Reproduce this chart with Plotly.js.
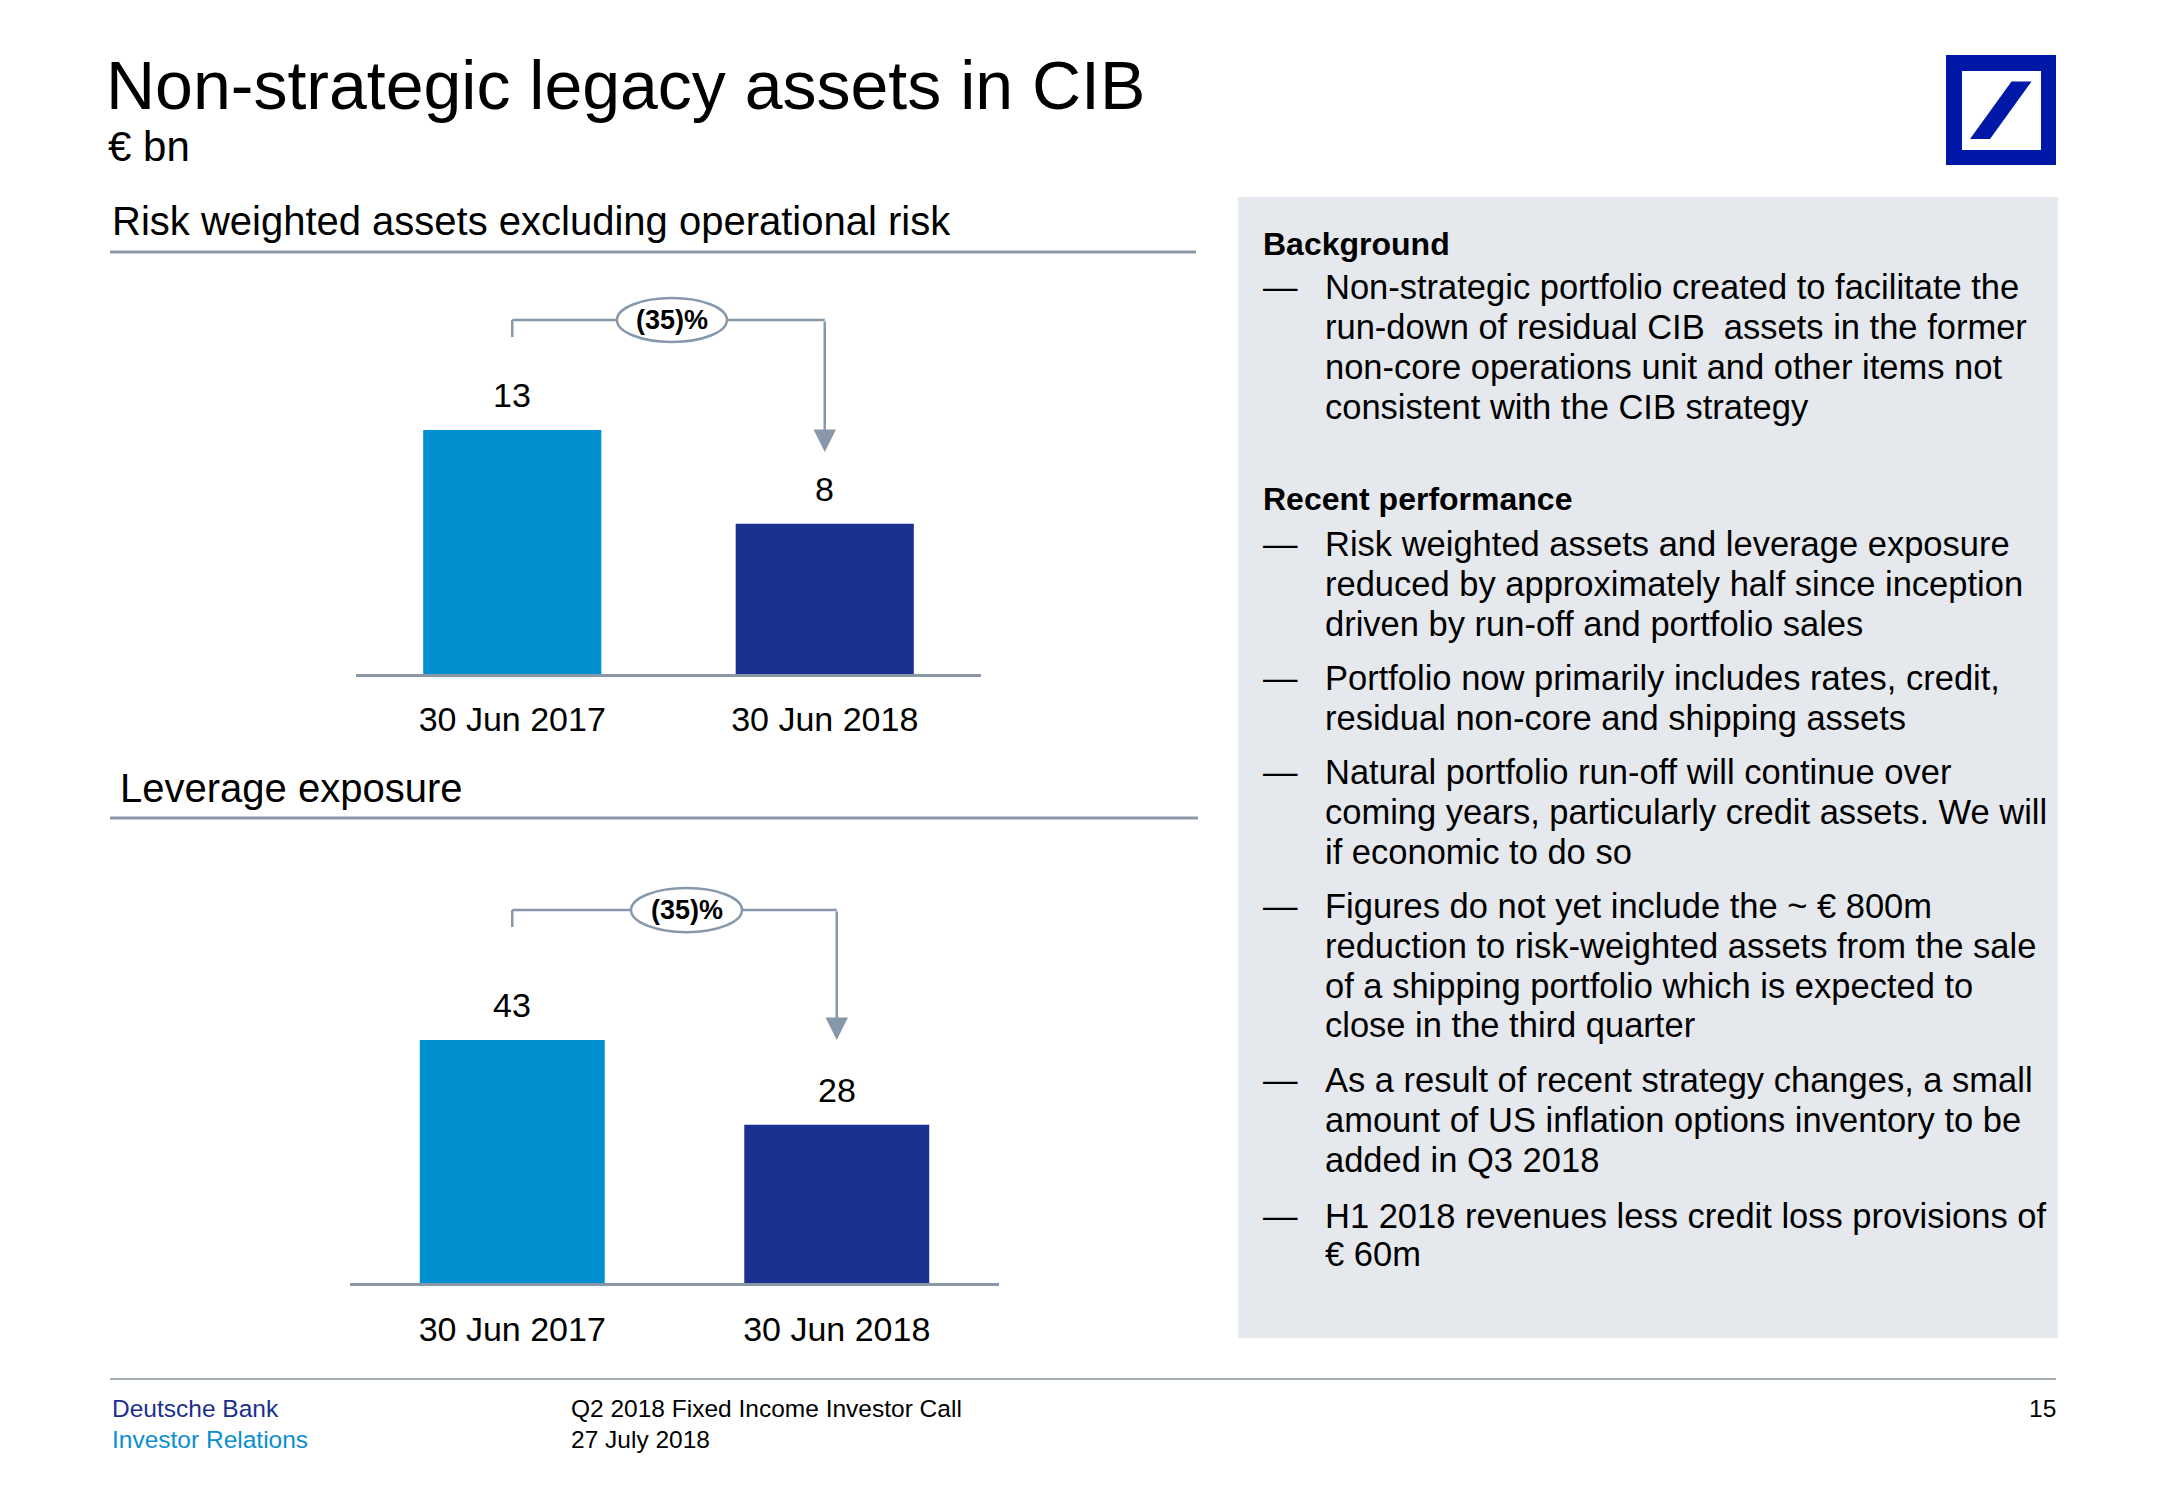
<!DOCTYPE html>
<html>
<head>
<meta charset="utf-8">
<script src="https://cdn.plot.ly/plotly-3.0.1.min.js"></script>
<style>
  html, body { margin: 0; padding: 0; background: #ffffff; }
  #chart { width: 2166px; height: 1500px; }
</style>
</head>
<body>
<div id="chart"></div>
<script>
// ---------------- data ----------------
const categories = ['30 Jun 2017', '30 Jun 2018'];
const rwaValues = [13, 8];
const leverageValues = [43, 28];
const rwaChangeLabel = '(35)%';
const leverageChangeLabel = '(35)%';

const pageTitle = 'Non-strategic legacy assets in CIB';
const pageUnit = '€ bn';
const rwaTitle = 'Risk weighted assets excluding operational risk';
const leverageTitle = 'Leverage exposure';

const backgroundHeading = 'Background';
const backgroundBullets = [
  ['Non-strategic portfolio created to facilitate the',
   'run-down of residual CIB  assets in the former',
   'non-core operations unit and other items not',
   'consistent with the CIB strategy']
];
const performanceHeading = 'Recent performance';
const performanceBullets = [
  ['Risk weighted assets and leverage exposure',
   'reduced by approximately half since inception',
   'driven by run-off and portfolio sales'],
  ['Portfolio now primarily includes rates, credit,',
   'residual non-core and shipping assets'],
  ['Natural portfolio run-off will continue over',
   'coming years, particularly credit assets. We will',
   'if economic to do so'],
  ['Figures do not yet include the ~ € 800m',
   'reduction to risk-weighted assets from the sale',
   'of a shipping portfolio which is expected to',
   'close in the third quarter'],
  ['As a result of recent strategy changes, a small',
   'amount of US inflation options inventory to be',
   'added in Q3 2018'],
  ['H1 2018 revenues less credit loss provisions of',
   '€ 60m']
];
const footerLeft = ['Deutsche Bank', 'Investor Relations'];
const footerMid = ['Q2 2018 Fixed Income Investor Call', '27 July 2018'];
const pageNumber = '15';

// ---------------- layout helpers ----------------
const W = 2166, H = 1500;
const fx = x => x / W;
const fy = y => 1 - y / H;
const FONT = 'Liberation Sans, Arial, sans-serif';
const LIGHT = '#0090CF';
const DARK = '#1B3192';
const GREYLINE = '#8A97A6';
const BRACKET = '#8798AA';
const barColors = [LIGHT, DARK];

const annotations = [];
const shapes = [];

function txt(text, x, y, size, opts) {
  opts = opts || {};
  annotations.push(Object.assign({
    text: text, xref: 'paper', yref: 'paper', x: fx(x), y: fy(y),
    xanchor: 'left', yanchor: 'middle', showarrow: false,
    font: {family: FONT, size: size, color: '#000000'}
  }, opts));
}

// Titles
txt(pageTitle, 104, 85, 68);
txt(pageUnit, 106, 147, 42);
txt(rwaTitle, 110, 221, 40);
txt(leverageTitle, 118, 788, 40);

// Section rules
shapes.push({type: 'line', xref: 'paper', yref: 'paper', x0: fx(110), x1: fx(1196), y0: fy(252), y1: fy(252), line: {color: GREYLINE, width: 3}});
shapes.push({type: 'line', xref: 'paper', yref: 'paper', x0: fx(110), x1: fx(1198), y0: fy(818), y1: fy(818), line: {color: GREYLINE, width: 3}});
// footer rule
shapes.push({type: 'line', xref: 'paper', yref: 'paper', x0: fx(110), x1: fx(2056), y0: fy(1379), y1: fy(1379), line: {color: '#A3ACB5', width: 2}});

// Right panel
shapes.push({type: 'rect', xref: 'paper', yref: 'paper', x0: fx(1238), x1: fx(2058), y0: fy(1338), y1: fy(197), fillcolor: '#E5E8ED', line: {width: 0}, layer: 'below'});

// Logo
shapes.push({type: 'rect', xref: 'paper', yref: 'paper', x0: fx(1946), x1: fx(2056), y0: fy(165), y1: fy(55), fillcolor: '#0018A8', line: {width: 0}});
shapes.push({type: 'rect', xref: 'paper', yref: 'paper', x0: fx(1962), x1: fx(2041), y0: fy(150), y1: fy(71), fillcolor: '#FFFFFF', line: {width: 0}});
shapes.push({type: 'path', xref: 'paper', yref: 'paper',
  path: 'M ' + fx(2011.5) + ',' + fy(81.5) + ' L ' + fx(2031.5) + ',' + fy(81.5) +
        ' L ' + fx(1990) + ',' + fy(139) + ' L ' + fx(1970) + ',' + fy(139) + ' Z',
  fillcolor: '#0018A8', line: {width: 0}});

// Panel text
const BODY = 34.5;
const dashX = 1261, textX = 1323;
const headFont = {family: FONT, size: 32, color: '#000', weight: 'bold'};
txt(backgroundHeading, 1261, 244, 32, {font: headFont});
const bgLineY = [[287, 327, 367, 407]];
backgroundBullets.forEach((lines, i) => {
  txt('—', dashX, bgLineY[i][0], BODY);
  lines.forEach((l, j) => txt(l, textX, bgLineY[i][j], BODY));
});
txt(performanceHeading, 1261, 499, 32, {font: headFont});
const perfLineY = [
  [544, 584, 624],
  [678, 718],
  [772, 812, 852],
  [906, 946, 986, 1025],
  [1080, 1120, 1160],
  [1216, 1254]
];
performanceBullets.forEach((lines, i) => {
  txt('—', dashX, perfLineY[i][0], BODY);
  lines.forEach((l, j) => txt(l, textX, perfLineY[i][j], BODY));
});

// Footer
txt(footerLeft[0], 110, 1408, 24.5, {font: {family: FONT, size: 24.5, color: '#1B2F8F'}});
txt(footerLeft[1], 110, 1439, 24.5, {font: {family: FONT, size: 24.5, color: '#0A8FD0'}});
txt(footerMid[0], 569, 1408, 24.5);
txt(footerMid[1], 569, 1439, 24.5);
txt(pageNumber, 2058, 1408, 24.5, {xanchor: 'right'});

// ---------------- charts ----------------
function addChart(values, xr, yr, bracketTop, tickBottom, arrowTip, changeLabel, ellipseX, ellipseHalfW, ellipseHalfH) {
  // value labels
  values.forEach((v, i) => {
    annotations.push({xref: xr, yref: yr, x: i, y: v, text: String(v), showarrow: false,
      xanchor: 'center', yanchor: 'middle', yshift: 35,
      font: {family: FONT, size: 34, color: '#000'}});
  });
  // bracket: left tick + horizontal line
  shapes.push({type: 'line', xref: xr, yref: yr, x0: 0, x1: 0, y0: tickBottom, y1: bracketTop, line: {color: BRACKET, width: 2.5}});
  shapes.push({type: 'line', xref: xr, yref: yr, x0: 0, x1: 1, y0: bracketTop, y1: bracketTop, line: {color: BRACKET, width: 2.5}});
  // arrow down towards second bar
  annotations.push({xref: xr, yref: yr, x: 1, y: arrowTip, axref: xr, ayref: yr, ax: 1, ay: bracketTop,
    text: '', showarrow: true, arrowhead: 2, arrowsize: 1.8, arrowwidth: 2.5, arrowcolor: BRACKET, standoff: 0});
  // ellipse + label
  shapes.push({type: 'circle', xref: xr, yref: yr, x0: ellipseX - ellipseHalfW, x1: ellipseX + ellipseHalfW,
    y0: bracketTop - ellipseHalfH, y1: bracketTop + ellipseHalfH, fillcolor: '#FFFFFF', line: {color: BRACKET, width: 2.5}});
  annotations.push({xref: xr, yref: yr, x: ellipseX, y: bracketTop, text: '<b>' + changeLabel + '</b>', showarrow: false,
    xanchor: 'center', yanchor: 'middle', font: {family: FONT, size: 27, color: '#000'}});
}

// chart 1: 18.77 px per unit, baseline at 674
const y1Range = 21;
const y1Top = 674 - y1Range * 18.77;
// chart 2: 5.65 px per unit, baseline at 1283
const y2Range = 72;
const y2Top = 1283 - y2Range * 5.65;

addChart(rwaValues, 'x', 'y', 18.86, 17.95, 11.83, rwaChangeLabel, 0.511, 0.176, 1.17);
addChart(leverageValues, 'x2', 'y2', 66.0, 63.0, 43.0, leverageChangeLabel, 0.537, 0.171, 3.9);

const traces = [
  {type: 'bar', x: categories, y: rwaValues, xaxis: 'x', yaxis: 'y', width: 0.57,
   marker: {color: barColors, line: {width: 0}}, hoverinfo: 'skip', showlegend: false},
  {type: 'bar', x: categories, y: leverageValues, xaxis: 'x2', yaxis: 'y2', width: 0.57,
   marker: {color: barColors, line: {width: 0}}, hoverinfo: 'skip', showlegend: false}
];

const xCommon = {type: 'category', showline: true, linecolor: GREYLINE, linewidth: 2.5, ticks: '',
  showgrid: false, zeroline: false, tickfont: {family: FONT, size: 34, color: '#000'},
  fixedrange: true, range: [-0.5, 1.5]};
const yCommon = {showgrid: false, zeroline: false, showticklabels: false, showline: false, ticks: '', fixedrange: true};

const layout = {
  width: W, height: H,
  margin: {l: 0, r: 0, t: 0, b: 0},
  paper_bgcolor: '#FFFFFF', plot_bgcolor: 'rgba(0,0,0,0)',
  font: {family: FONT, color: '#000'},
  showlegend: false,
  xaxis: Object.assign({}, xCommon, {domain: [fx(356), fx(981)], anchor: 'y', ticklabelstandoff: 14}),
  yaxis: Object.assign({}, yCommon, {domain: [fy(674), fy(y1Top)], range: [0, y1Range], anchor: 'x'}),
  xaxis2: Object.assign({}, xCommon, {domain: [fx(350), fx(999)], anchor: 'y2', ticklabelstandoff: 15}),
  yaxis2: Object.assign({}, yCommon, {domain: [fy(1283), fy(y2Top)], range: [0, y2Range], anchor: 'x2'}),
  shapes: shapes,
  annotations: annotations
};

Plotly.newPlot('chart', traces, layout, {staticPlot: true, displayModeBar: false});
</script>
</body>
</html>
